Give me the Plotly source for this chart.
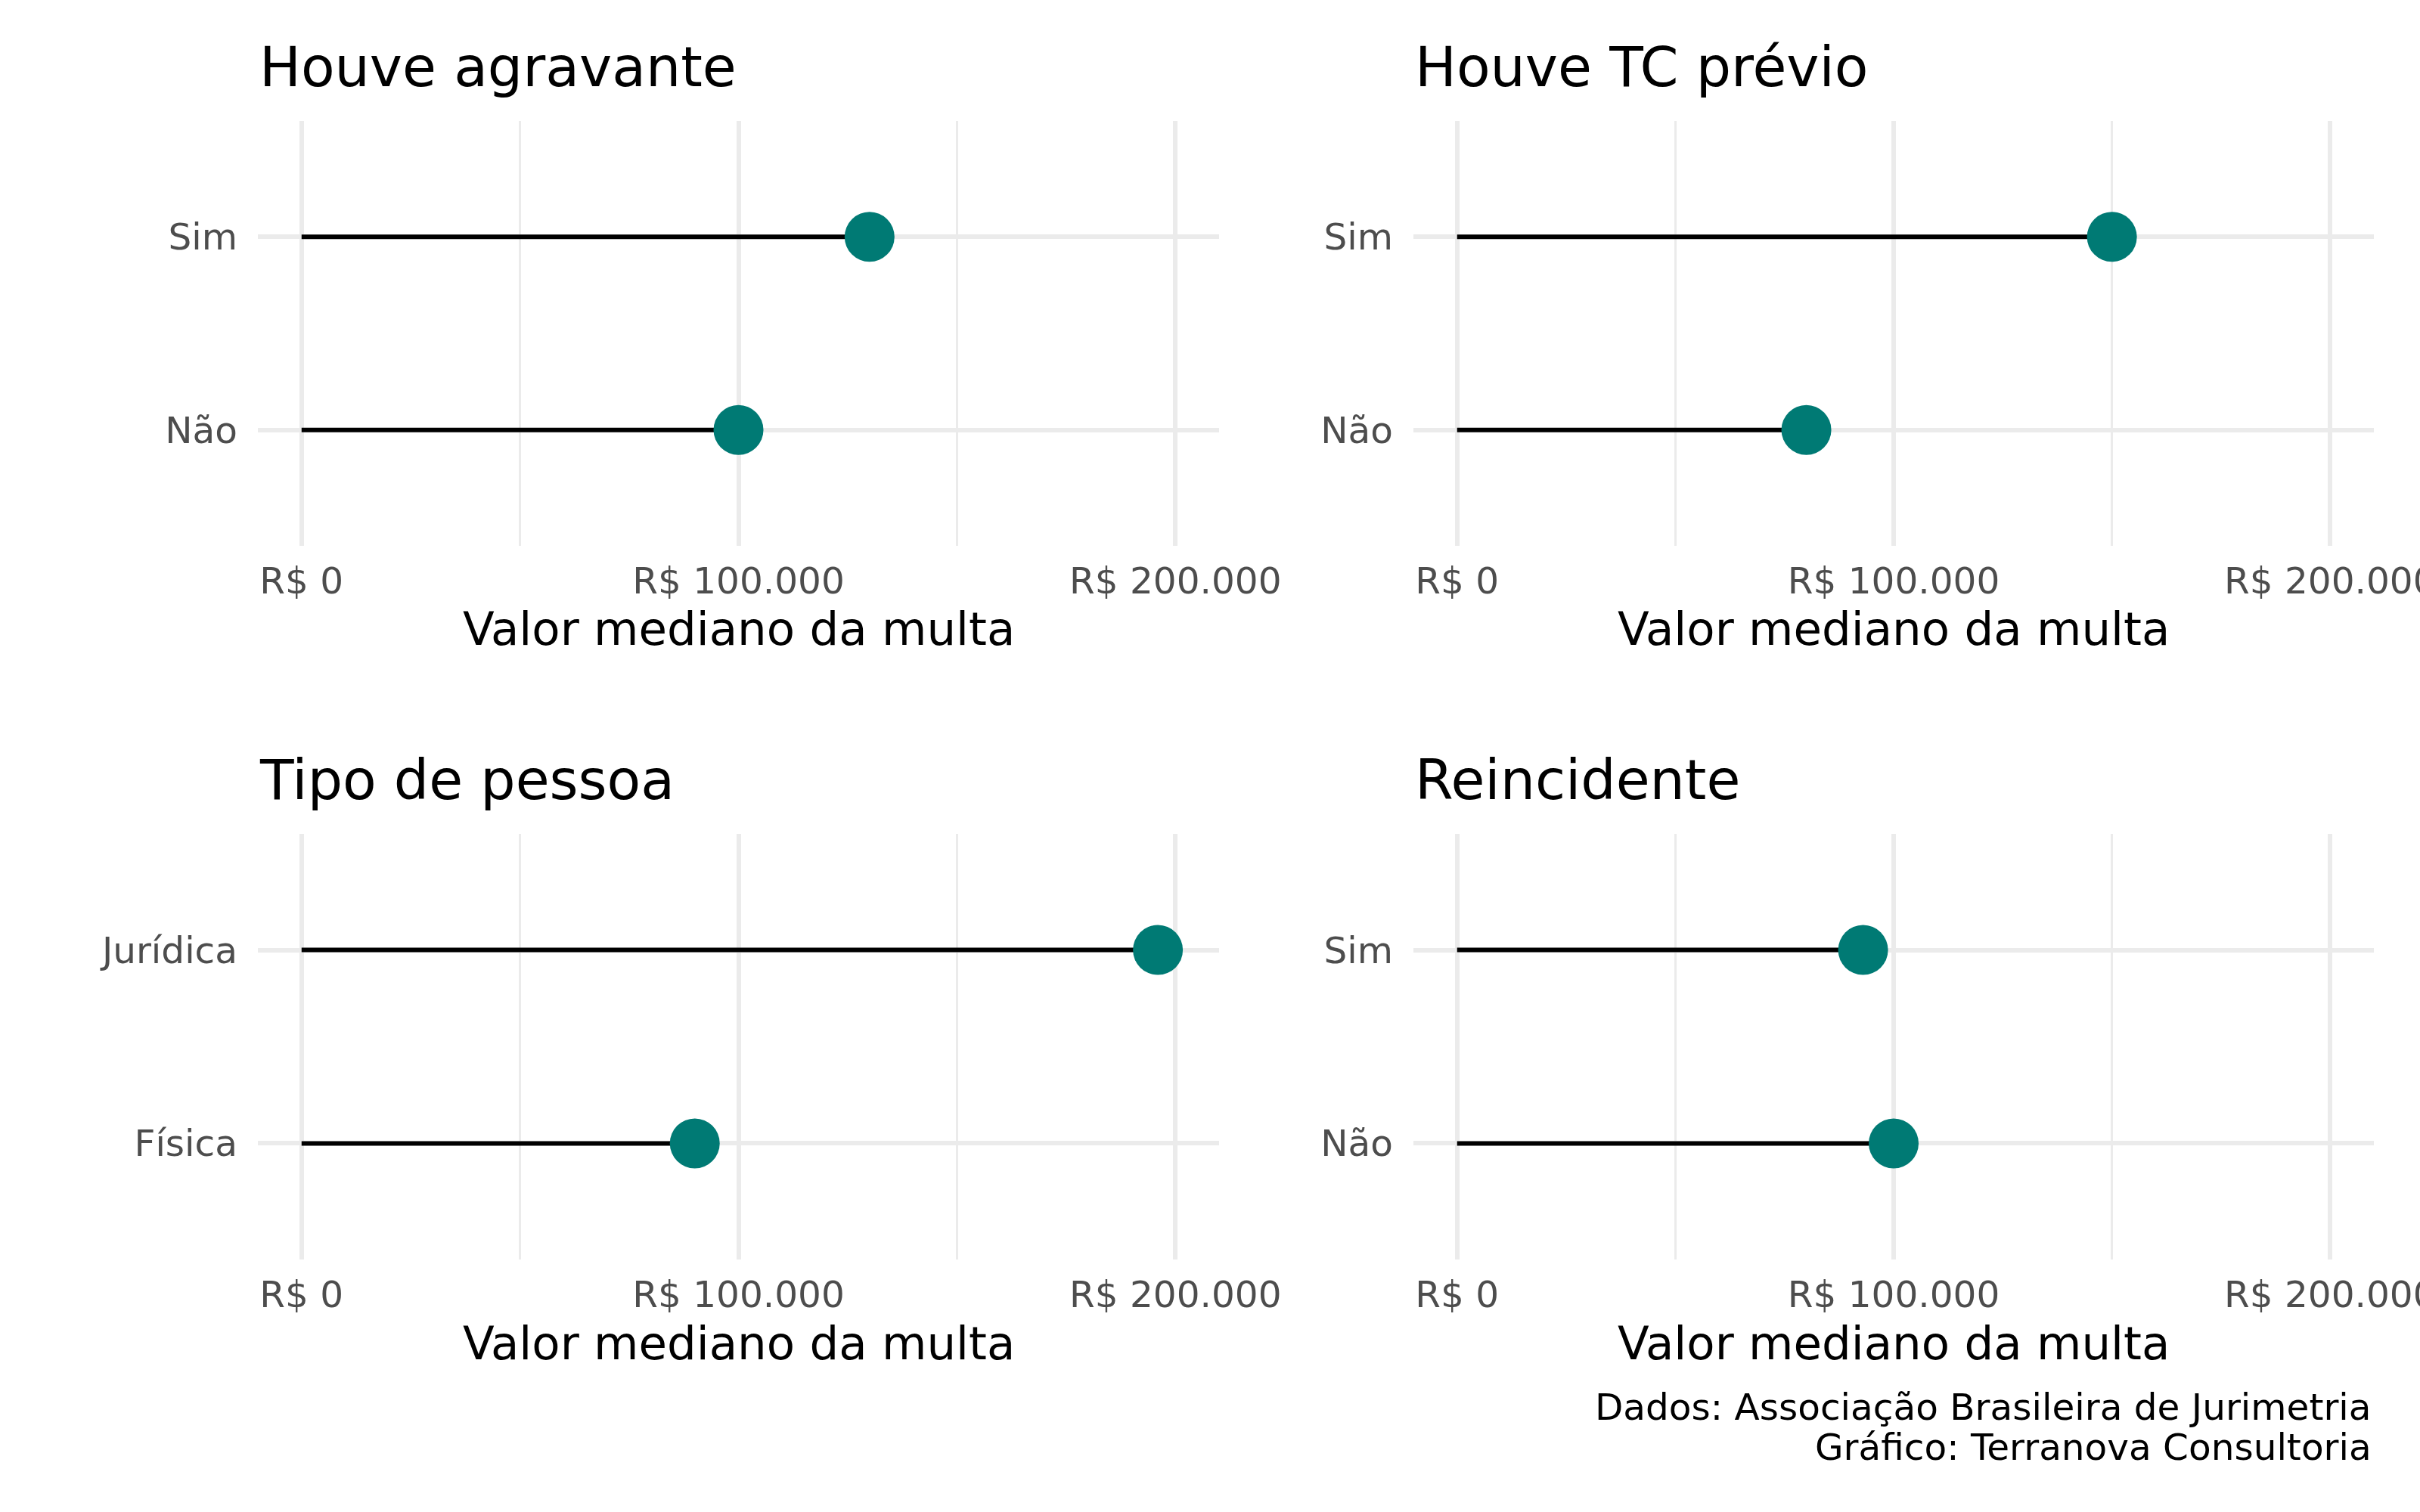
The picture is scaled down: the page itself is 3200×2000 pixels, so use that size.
import plotly.graph_objects as go

# ---- data ----
panel_titles = ["Houve agravante", "Houve TC prévio", "Tipo de pessoa", "Reincidente"]
cats_agravante = ["Não", "Sim"]
vals_agravante = [100000, 130000]
cats_tc = ["Não", "Sim"]
vals_tc = [80000, 150000]
cats_tipo = ["Física", "Jurídica"]
vals_tipo = [90000, 196000]
cats_reinc = ["Não", "Sim"]
vals_reinc = [100000, 93000]
x_title = "Valor mediano da multa"
caption_lines = ["Dados: Associação Brasileira de Jurimetria", "Gráfico: Terranova Consultoria"]

panels = [
    (cats_agravante, vals_agravante),
    (cats_tc, vals_tc),
    (cats_tipo, vals_tipo),
    (cats_reinc, vals_reinc),
]

W, H = 3200, 2000
FONT = "DejaVu Sans"
TEAL = "#007A74"
GRID = "#EBEBEB"

# plot-area positions in pixels (left, right, top, bottom)
boxes = [
    (341, 1612, 160, 722),
    (1869, 3139, 160, 722),
    (341, 1612, 1103, 1666),
    (1869, 3139, 1103, 1666),
]

fig = go.Figure()
layout = dict(
    width=W, height=H,
    margin=dict(l=0, r=0, t=0, b=0, autoexpand=False),
    paper_bgcolor="white", plot_bgcolor="white",
    showlegend=False,
    separators=",.",
    font=dict(family=FONT, color="black"),
    annotations=[],
)

for i, ((cats, vals), box) in enumerate(zip(panels, boxes)):
    n = "" if i == 0 else str(i + 1)
    xa, ya = "x" + n, "y" + n
    L, R, T, B = box
    seg_x, seg_y = [], []
    for c, v in zip(cats, vals):
        seg_x += [0, v, None]
        seg_y += [c, c, None]
    fig.add_trace(go.Scatter(x=seg_x, y=seg_y, mode="lines",
                             line=dict(color="black", width=6),
                             xaxis=xa, yaxis=ya, hoverinfo="skip"))
    fig.add_trace(go.Scatter(x=vals, y=cats, mode="markers",
                             marker=dict(color=TEAL, size=66, line=dict(width=0)),
                             xaxis=xa, yaxis=ya))
    layout["xaxis" + n] = dict(
        domain=[L / W, R / W], anchor=ya, automargin=False,
        range=[-10000, 210000], tick0=0, dtick=100000,
        tickprefix="R$ ", tickformat=",d",
        showgrid=True, gridcolor=GRID, gridwidth=5.5,
        minor=dict(dtick=50000, tick0=0, showgrid=True, gridcolor=GRID, gridwidth=3),
        zeroline=False, showline=False, ticks="",
        tickfont=dict(family=FONT, size=48.5, color="#4D4D4D"),
        ticklabelstandoff=13, ticklabeloverflow="allow",
    )
    layout["yaxis" + n] = dict(
        domain=[1 - B / H, 1 - T / H], anchor=xa, automargin=False,
        type="category", categoryorder="array", categoryarray=cats,
        range=[-0.6, 1.6],
        showgrid=True, gridcolor=GRID, gridwidth=5.5,
        zeroline=False, showline=False, ticks="",
        tickfont=dict(family=FONT, size=48.5, color="#4D4D4D"),
        ticklabelstandoff=26,
    )
    # panel title
    layout["annotations"].append(dict(
        text=panel_titles[i], xref="paper", yref="paper",
        x=L / W, y=1 - (T - 72) / H, xanchor="left", yanchor="middle",
        showarrow=False, font=dict(family=FONT, size=73, color="black")))
    # x-axis title
    layout["annotations"].append(dict(
        text=x_title, xref="paper", yref="paper",
        x=(L + R) / 2 / W, y=1 - (B + 110) / H, xanchor="center", yanchor="middle",
        showarrow=False, font=dict(family=FONT, size=61, color="black")))

for k, line in enumerate(caption_lines):
    layout["annotations"].append(dict(
        text=line, xref="paper", yref="paper",
        x=3138 / W, y=1 - (1861 + 53 * k) / H, xanchor="right", yanchor="middle",
        showarrow=False, font=dict(family=FONT, size=48.5, color="black")))

fig.update_layout(**layout)
fig.write_html("out.html")
